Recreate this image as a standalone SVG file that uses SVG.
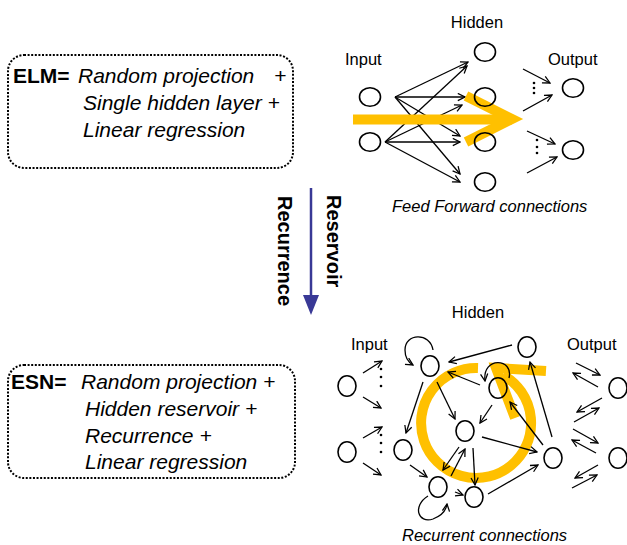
<svg xmlns="http://www.w3.org/2000/svg" width="627" height="545" viewBox="0 0 627 545">
<style>
.box{fill:none;stroke:#000;stroke-width:2;stroke-dasharray:2 1.6}
.eq{font-family:"Liberation Sans",Arial,sans-serif;font-size:21px;font-weight:bold;fill:#000}
.it{font-family:"Liberation Sans",Arial,sans-serif;font-size:21px;font-style:italic;fill:#000}
.lbl{font-family:"Liberation Sans",Arial,sans-serif;font-size:16.5px;fill:#000}
.cap{font-family:"Liberation Sans",Arial,sans-serif;font-size:16.5px;font-style:italic;fill:#000}
.rot{font-family:"Liberation Sans",Arial,sans-serif;font-size:20px;font-weight:bold;fill:#000}
.nd{fill:none;stroke:#000;stroke-width:1.6}
.ar{fill:none;stroke:#000;stroke-width:1.3;marker-end:url(#ah)}
.gold{fill:none;stroke:#FFC000;stroke-width:10}
.dot{fill:#000}
</style>
<defs>
<marker id="ah" viewBox="0 0 10 10" refX="9" refY="5" markerWidth="9" markerHeight="9" markerUnits="userSpaceOnUse" orient="auto">
<path d="M1,1 L9,5 L1,9" fill="none" stroke="#000" stroke-width="1.4"/>
</marker>
<marker id="bh" viewBox="0 0 10 10" refX="5" refY="5" markerWidth="20" markerHeight="20" markerUnits="userSpaceOnUse" orient="auto">
<path d="M0,1 L10,5 L0,9 Z" fill="#393996"/>
</marker>
</defs>
<rect width="627" height="545" fill="#fff"/>

<g id="elm-box">
<rect class="box" x="8" y="55" width="285" height="113" rx="16"/>
<text class="eq" x="13" y="83">ELM=</text>
<text class="it" x="78" y="83">Random projection</text>
<text class="it" x="274" y="83">+</text>
<text class="it" x="83" y="110">Single hidden layer +</text>
<text class="it" x="83" y="137">Linear regression</text>
</g>

<g id="esn-box">
<rect class="box" x="8" y="365" width="287" height="113" rx="16"/>
<text class="eq" x="11" y="389">ESN=</text>
<text class="it" x="81" y="389">Random projection +</text>
<text class="it" x="85" y="416">Hidden reservoir +</text>
<text class="it" x="85" y="443">Recurrence +</text>
<text class="it" x="85" y="469">Linear regression</text>
</g>

<g id="transition">
<line x1="311" y1="188" x2="311" y2="305" stroke="#393996" stroke-width="2.5" marker-end="url(#bh)"/>
<text class="rot" transform="translate(327,195) rotate(90)">Reservoir</text>
<text class="rot" transform="translate(278,196) rotate(90)">Recurrence</text>
</g>

<!-- Feed-forward network -->
<g id="ff-labels">
<text class="lbl" x="477" y="28" text-anchor="middle">Hidden</text>
<text class="lbl" x="345" y="65">Input</text>
<text class="lbl" x="548" y="65">Output</text>
<text class="cap" x="392" y="212">Feed Forward connections</text>
</g>
<g id="ff-connectors">
<line class="ar" x1="395" y1="97" x2="468" y2="62"/>
<line class="ar" x1="395" y1="97" x2="465" y2="97"/>
<line class="ar" x1="395" y1="97" x2="460" y2="136"/>
<line class="ar" x1="395" y1="97" x2="460" y2="174"/>
<line class="ar" x1="385" y1="142" x2="467" y2="66"/>
<line class="ar" x1="385" y1="142" x2="462" y2="105"/>
<line class="ar" x1="385" y1="142" x2="460" y2="142"/>
<line class="ar" x1="385" y1="142" x2="460" y2="182"/>
<line class="ar" x1="523" y1="69" x2="550" y2="83"/>
<line class="ar" x1="523" y1="111" x2="552" y2="95"/>
<line class="ar" x1="527" y1="131" x2="555" y2="144"/>
<line class="ar" x1="527" y1="173" x2="557" y2="157"/>
<circle class="dot" cx="534" cy="83" r="1.3"/>
<circle class="dot" cx="534" cy="88" r="1.3"/>
<circle class="dot" cx="534" cy="93" r="1.3"/>
<circle class="dot" cx="537" cy="140" r="1.3"/>
<circle class="dot" cx="537" cy="147" r="1.3"/>
<circle class="dot" cx="537" cy="153" r="1.3"/>
</g>
<g id="ff-flow">
<line class="gold" x1="353" y1="119.5" x2="512" y2="119.5" stroke-width="9"/>
<polyline class="gold" points="466,96 512,119 466,142" stroke-linejoin="miter" stroke-miterlimit="10"/>
</g>
<g id="ff-in1"><ellipse class="nd" cx="370" cy="97" rx="10.5" ry="9.3"/></g>
<g id="ff-in2"><ellipse class="nd" cx="370" cy="142" rx="10.5" ry="9.3"/></g>
<g id="ff-h1"><ellipse class="nd" cx="485" cy="52" rx="10.5" ry="9.3"/></g>
<g id="ff-h2"><ellipse class="nd" cx="485" cy="97" rx="10.5" ry="9.3"/></g>
<g id="ff-h3"><ellipse class="nd" cx="485" cy="142" rx="10.5" ry="9.3"/></g>
<g id="ff-h4"><ellipse class="nd" cx="485" cy="182" rx="10.5" ry="9.3"/></g>
<g id="ff-out1"><ellipse class="nd" cx="573" cy="88" rx="10.5" ry="9.3"/></g>
<g id="ff-out2"><ellipse class="nd" cx="573" cy="150" rx="10.5" ry="9.3"/></g>

<!-- Recurrent network -->
<g id="rn-labels">
<text class="lbl" x="478" y="318" text-anchor="middle">Hidden</text>
<text class="lbl" x="351" y="350">Input</text>
<text class="lbl" x="567" y="350">Output</text>
<text class="cap" x="402" y="541">Recurrent connections</text>
</g>
<g id="rn-flow">
<path class="gold" d="M478,368 A55,55 0 1 0 503,375"/>
<polyline class="gold" points="546,371 496,368 515,418" stroke-linejoin="miter" stroke-miterlimit="10"/>
</g>
<g id="rn-connectors">
<line class="ar" x1="363" y1="373" x2="382" y2="361"/>
<line class="ar" x1="363" y1="397" x2="381" y2="408"/>
<line class="ar" x1="363" y1="438" x2="382" y2="427"/>
<line class="ar" x1="363" y1="463" x2="381" y2="475"/>
<circle class="dot" cx="381" cy="369" r="1.3"/>
<circle class="dot" cx="381" cy="377" r="1.3"/>
<circle class="dot" cx="381" cy="386" r="1.3"/>
<circle class="dot" cx="381" cy="435" r="1.3"/>
<circle class="dot" cx="381" cy="443" r="1.3"/>
<circle class="dot" cx="381" cy="452" r="1.3"/>
<line class="ar" x1="512" y1="345" x2="449" y2="362"/>
<line class="ar" x1="480" y1="385" x2="448" y2="372"/>
<line class="ar" x1="437" y1="382" x2="455" y2="419"/>
<line class="ar" x1="423" y1="382" x2="406" y2="433"/>
<line class="ar" x1="492" y1="405" x2="480" y2="423"/>
<line class="ar" x1="543" y1="445" x2="510" y2="402"/>
<line class="ar" x1="552" y1="437" x2="530" y2="362"/>
<line class="ar" x1="482" y1="437" x2="537" y2="452"/>
<line class="ar" x1="459" y1="447" x2="443" y2="470"/>
<line class="ar" x1="451" y1="476" x2="465" y2="449"/>
<line class="ar" x1="473" y1="448" x2="475" y2="485"/>
<line class="ar" x1="410" y1="465" x2="427" y2="477"/>
<line class="ar" x1="455" y1="492" x2="463" y2="495"/>
<line class="ar" x1="488" y1="494" x2="538" y2="465"/>
<path class="ar" d="M433,350 C430,332 405,333 405,350 C405,357 408,362 413,365"/>
<path class="ar" d="M509,378 C514,358 482,356 485,381"/>
<path class="ar" d="M428,496 C412,506 418,524 433,519 C441,516 446,511 447,504"/>
<line class="ar" x1="576" y1="363" x2="600" y2="375"/>
<line class="ar" x1="598" y1="387" x2="573" y2="373"/>
<line class="ar" x1="602" y1="398" x2="577" y2="412"/>
<line class="ar" x1="574" y1="422" x2="599" y2="408"/>
<line class="ar" x1="573" y1="429" x2="598" y2="443"/>
<line class="ar" x1="596" y1="453" x2="572" y2="440"/>
<line class="ar" x1="598" y1="465" x2="575" y2="478"/>
<line class="ar" x1="572" y1="488" x2="597" y2="475"/>
</g>
<g id="rn-in1"><ellipse class="nd" cx="347" cy="386" rx="9" ry="10.3"/></g>
<g id="rn-in2"><ellipse class="nd" cx="347" cy="452" rx="9" ry="10.3"/></g>
<g id="rn-a"><ellipse class="nd" cx="430" cy="366" rx="9" ry="10.3"/></g>
<g id="rn-b"><ellipse class="nd" cx="527" cy="347" rx="9" ry="10.3"/></g>
<g id="rn-c"><ellipse class="nd" cx="498" cy="388" rx="9" ry="10.3"/></g>
<g id="rn-d"><ellipse class="nd" cx="465" cy="431" rx="9" ry="10.3"/></g>
<g id="rn-e"><ellipse class="nd" cx="403" cy="450" rx="9" ry="10.3"/></g>
<g id="rn-f"><ellipse class="nd" cx="553" cy="458" rx="9" ry="10.3"/></g>
<g id="rn-g"><ellipse class="nd" cx="438" cy="487" rx="9" ry="10.3"/></g>
<g id="rn-h"><ellipse class="nd" cx="474" cy="497" rx="9" ry="10.3"/></g>
<g id="rn-out1"><ellipse class="nd" cx="618" cy="388" rx="9" ry="10.3"/></g>
<g id="rn-out2"><ellipse class="nd" cx="618" cy="458" rx="9" ry="10.3"/></g>
</svg>
